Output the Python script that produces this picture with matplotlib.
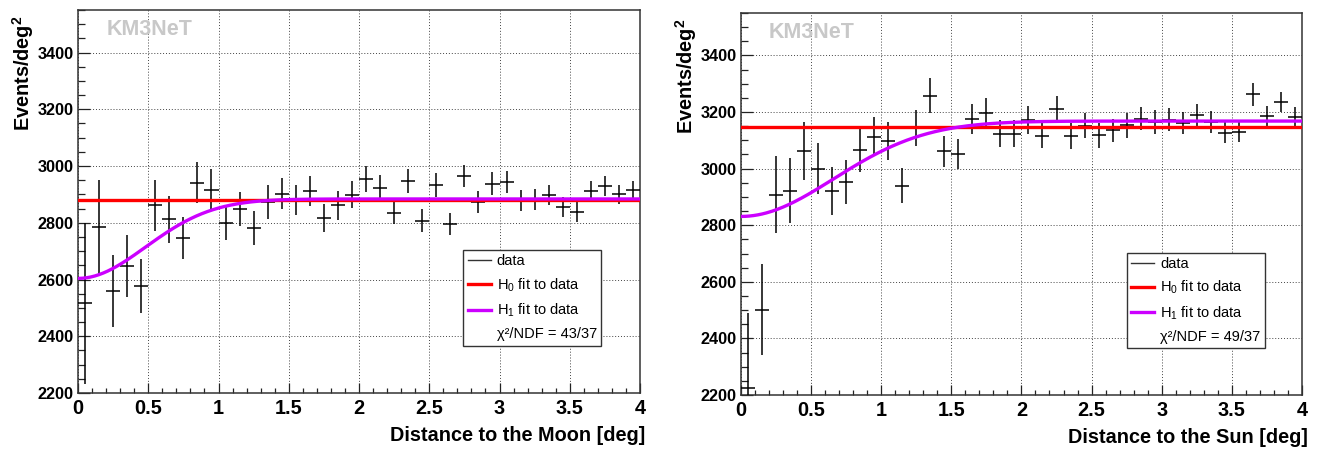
"""
Moon / Sun shadow: event density vs angular distance, H0 and H1 fits.
"""

import numpy as np
import matplotlib
matplotlib.use("Agg")
import matplotlib.pyplot as plt
from matplotlib.lines import Line2D
from matplotlib.ticker import MultipleLocator, FormatStrFormatter

plt.rcParams["font.family"] = ["Liberation Sans", "DejaVu Sans"]
plt.rcParams["mathtext.fontset"] = "custom"
plt.rcParams["mathtext.rm"] = "Liberation Sans"
plt.rcParams["mathtext.it"] = "Liberation Sans:italic"
plt.rcParams["mathtext.bf"] = "Liberation Sans:bold"

# 40 bins of 0.1 deg from 0 to 4 deg
bin_edges = np.linspace(0.0, 4.0, 41)

# Moon: events/deg^2 per bin and their errors
moon_vals = [2516, 2785, 2560, 2648, 2577, 2861, 2812, 2746, 2942, 2917,
             2800, 2847, 2781, 2873, 2903, 2880, 2912, 2818, 2861, 2899,
             2954, 2924, 2835, 2948, 2808, 2933, 2796, 2966, 2873, 2938,
             2944, 2878, 2883, 2899, 2856, 2838, 2912, 2929, 2900, 2914]
moon_errs = [285, 165, 127, 110, 95, 90, 82, 75, 73, 71,
             62, 60, 61, 59, 56, 54, 53, 49, 50, 47,
             47, 44, 40, 42, 41, 41, 40, 39, 39, 41,
             39, 37, 37, 35, 34, 35, 36, 35, 33, 35]

# Sun: events/deg^2 per bin and their errors
sun_vals = [2225, 2501, 2908, 2922, 3061, 3000, 2920, 2954, 3065, 3112,
            3097, 2940, 3144, 3258, 3061, 3050, 3176, 3195, 3124, 3124,
            3173, 3117, 3209, 3114, 3152, 3118, 3135, 3153, 3177, 3165,
            3173, 3162, 3189, 3165, 3126, 3130, 3262, 3185, 3235, 3182]
sun_errs = [265, 161, 136, 115, 103, 91, 84, 78, 76, 69,
            67, 62, 63, 61, 55, 53, 54, 53, 49, 49,
            49, 44, 47, 46, 45, 44, 42, 44, 41, 41,
            41, 38, 40, 38, 37, 35, 39, 35, 35, 34]

# fit results: H0 flat level; H1 = plateau - depth * gaussian(sigma)
moon_h0 = 2880
moon_h1 = dict(plateau=2884, depth=280, sigma=0.48)
sun_h0 = 3146
sun_h1 = dict(plateau=3168, depth=337, sigma=0.66)

moon_chi2 = "43/37"
sun_chi2 = "49/37"

RED = "#ff0000"
VIOLET = "#cc00ff"


def h1_model(r, plateau, depth, sigma):
    return plateau - depth * np.exp(-r**2 / (2 * sigma**2))


def draw_panel(ax, vals, errs, h0, h1, chi2, xlabel, leg_anchor):
    centers = 0.5 * (bin_edges[:-1] + bin_edges[1:])
    halfw = 0.5 * np.diff(bin_edges)
    ax.errorbar(centers, vals, yerr=errs, xerr=halfw, fmt="none",
                ecolor="black", elinewidth=1.1, capsize=0, zorder=3)

    r = np.linspace(0, 4, 400)
    ax.plot([0, 4], [h0, h0], color=RED, lw=2.4, zorder=4)
    ax.plot(r, h1_model(r, **h1), color=VIOLET, lw=2.4, zorder=5)

    ax.set_xlim(0, 4)
    ax.set_ylim(2200, 3550)
    ax.xaxis.set_major_locator(MultipleLocator(0.5))
    ax.xaxis.set_minor_locator(MultipleLocator(0.1))
    ax.yaxis.set_major_locator(MultipleLocator(200))
    ax.yaxis.set_minor_locator(MultipleLocator(50))
    ax.xaxis.set_major_formatter(FormatStrFormatter("%g"))

    ax.tick_params(which="both", direction="in", top=False, right=False,
                   color="#222222", width=0.9)
    ax.tick_params(axis="x", which="major", length=7, labelsize=14.3, pad=4)
    ax.tick_params(axis="x", which="minor", length=3.6)
    ax.tick_params(axis="y", which="major", length=8.4, labelsize=11.7, pad=3)
    ax.tick_params(axis="y", which="minor", length=4.8)
    for lab in ax.get_xticklabels() + ax.get_yticklabels():
        lab.set_fontweight("bold")
    for sp in ax.spines.values():
        sp.set_linewidth(1.1)
        sp.set_color("#333333")

    ax.grid(True, which="major", color="#444444", linestyle=(0, (1, 2)),
            linewidth=0.7)
    ax.set_axisbelow(True)

    ax.set_xlabel(xlabel, fontsize=14.3, fontweight="bold", loc="right")
    ax.xaxis.set_label_coords(1.01, -0.086)
    ax.set_ylabel(r"Events/deg$^{\mathbf{2}}$", fontsize=14.3,
                  fontweight="bold", loc="top")
    ax.yaxis.set_label_coords(-0.075, 0.985)

    ax.text(0.05, 0.948, "KM3NeT", transform=ax.transAxes, fontsize=15.5,
            fontweight="bold", color="#c8c8c8", va="center", ha="left")

    handles = [
        Line2D([], [], color="#333333", lw=1.0),
        Line2D([], [], color=RED, lw=2.4),
        Line2D([], [], color=VIOLET, lw=2.4),
        Line2D([], [], color="none"),
    ]
    labels = ["data", "H$_0$ fit to data", "H$_1$ fit to data",
              f"χ²/NDF = {chi2}"]
    leg = ax.legend(handles, labels, loc="upper left",
                    bbox_to_anchor=leg_anchor, borderaxespad=0,
                    fontsize=10.5, frameon=True, fancybox=False,
                    edgecolor="#333333", framealpha=1, handlelength=1.6,
                    handletextpad=0.4, labelspacing=0.55, borderpad=0.3)
    leg.get_frame().set_linewidth(1.0)


fig = plt.figure(figsize=(13.18, 4.49), dpi=100)
ax_moon = fig.add_axes([0.0592, 0.1247, 0.4264, 0.853])
ax_sun = fig.add_axes([0.5622, 0.1203, 0.4256, 0.8508])

draw_panel(ax_moon, moon_vals, moon_errs, moon_h0, moon_h1, moon_chi2,
           "Distance to the Moon [deg]", (0.6856, 0.3734))
draw_panel(ax_sun, sun_vals, sun_errs, sun_h0, sun_h1, sun_chi2,
           "Distance to the Sun [deg]", (0.6875, 0.3725))

fig.savefig("out.png", dpi=100)
